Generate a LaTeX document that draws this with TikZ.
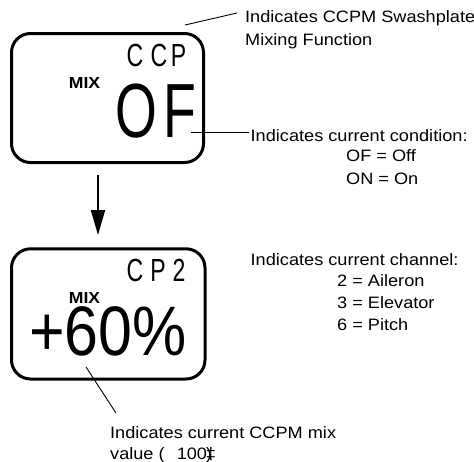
\documentclass[tikz,border=0pt]{standalone}
\usepackage{fontspec}
\setmainfont{Liberation Sans}
\usetikzlibrary{arrows.meta}
\tikzset{
  lbl/.style={anchor=base west, inner sep=0pt, font=\fontsize{16.5}{19}\selectfont},
  lcd/.style={anchor=base west, inner sep=0pt},
  mixlbl/.style={anchor=base west, inner sep=0pt, font=\bfseries\fontsize{16}{18}\selectfont},
  lcdbox/.style={draw, line width=3pt, rounded corners=19pt, inner sep=0pt},
  leader/.style={line width=0.9pt},
  flow/.style={line width=2pt, -{Triangle[length=25pt,width=14pt]}}
}
\newcommand{\wide}[1]{\scalebox{1.1}[1]{#1}}
\begin{document}
\begin{tikzpicture}[x=1pt,y=-1pt]
\useasboundingbox (0,0) rectangle (474,461);
% LCD boxes
\node[lcdbox, minimum width=192pt, minimum height=129pt] (box1) at (107.5,98) {};
\node[lcdbox, minimum width=193.5pt, minimum height=130.2pt] (box2) at (108.25,313.9) {};
% box 1 contents
\node[lcd, font=\fontsize{32}{34}\selectfont] (ccp) at (126.5,66) {\scalebox{0.72}[1]{C\hspace{10.3pt}C\hspace{4.7pt}P}};
\node[lcd, font=\fontsize{76.8}{80}\selectfont] (of) at (115.3,137) {\scalebox{0.7}[1]{O\hspace{8.7pt}F}};
\node[mixlbl] (mix1) at (68.7,88) {\scalebox{1.1}[1]{MIX}};
% box 2 contents
\node[lcd, font=\fontsize{32}{34}\selectfont] (cp2) at (126.5,281) {\scalebox{0.72}[1]{C\hspace{9.9pt}P\hspace{9.3pt}2}};
\node[lcd, font=\fontsize{70}{74}\selectfont] (val) at (29,355) {\scalebox{0.87}[1]{+60\%}};
\node[mixlbl] (mix2) at (68.7,303) {\scalebox{1.1}[1]{MIX}};
% labels
\node[lbl] (t1) at (245,22.5) {\wide{Indicates CCPM Swashplate}};
\node[lbl] (t2) at (245,45) {\wide{Mixing Function}};
\node[lbl] (t3) at (250.5,141) {\wide{Indicates current condition:}};
\node[lbl] (t4) at (346,161.5) {\wide{OF = Off}};
\node[lbl] (t5) at (346,184) {\wide{ON = On}};
\node[lbl] (t6) at (250.5,265) {\wide{Indicates current channel:}};
\node[lbl] (t7) at (337,286.5) {\wide{2 = Aileron}};
\node[lbl] (t8) at (337,308) {\wide{3 = Elevator}};
\node[lbl] (t9) at (337,330) {\wide{6 = Pitch}};
\node[lbl] (t10) at (110,438) {\wide{Indicates current CCPM mix}};
\node[lbl] (t11) at (110,459) {\wide{value (\hspace{11pt}100\kern-1pt\rlap{)}‡}};
% leader lines
\coordinate (l1a) at (185,25);
\coordinate (l1b) at (237,13);
\coordinate (l2a) at (191,132.5);
\coordinate (l2b) at (249,132.5);
\coordinate (l3a) at (86,367);
\coordinate (l3b) at (116,413);
\draw[leader] (l1a) -- (l1b);
\draw[leader] (l2a) -- (l2b);
\draw[leader] (l3a) -- (l3b);
% flow arrow
\coordinate (a1) at (98,175);
\coordinate (a2) at (98,235);
\draw[flow] (a1) -- (a2);
\end{tikzpicture}
\end{document}
